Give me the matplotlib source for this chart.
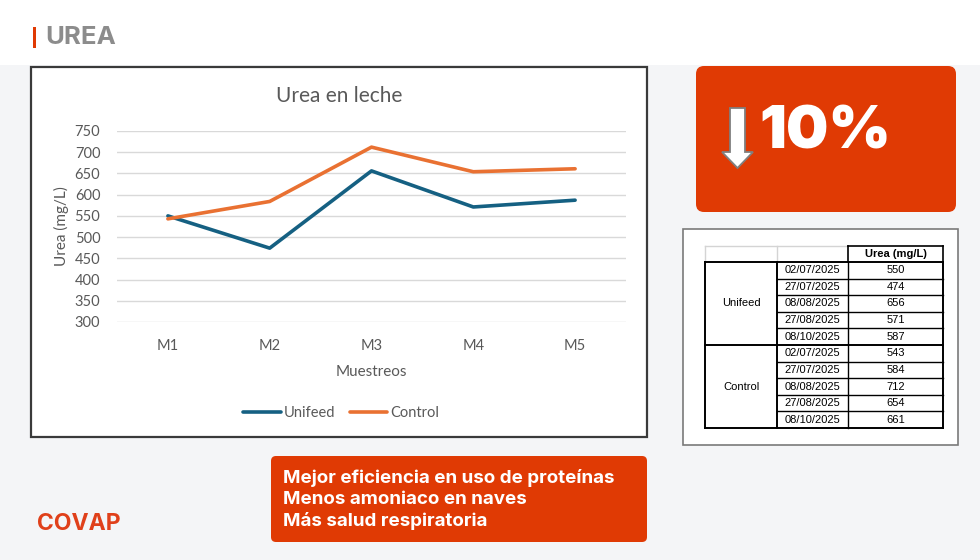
import matplotlib.pyplot as plt
from matplotlib.patches import Rectangle, FancyBboxPatch, Polygon

# data
muestreos = ['M1', 'M2', 'M3', 'M4', 'M5']
fechas = ['02/07/2025', '27/07/2025', '08/08/2025', '27/08/2025', '08/10/2025']
unifeed = [550, 474, 656, 571, 587]
control = [543, 584, 712, 654, 661]
y_ticks = list(range(300, 751, 50))
bullets = ['Mejor eficiencia en uso de proteínas',
           'Menos amoniaco en naves',
           'Más salud respiratoria']

W, H = 980, 560
RED = '#e03a04'
fig = plt.figure(figsize=(9.8, 5.6), dpi=100)
fig.patch.set_facecolor('#f4f5f7')

def frac(x0, y0, x1, y1):
    # pixel box (top-left origin) -> figure fraction rect
    return [x0 / W, 1 - y1 / H, (x1 - x0) / W, (y1 - y0) / H]

# background layer in pixel coords
bg = fig.add_axes([0, 0, 1, 1])
bg.set_xlim(0, W)
bg.set_ylim(H, 0)
bg.axis('off')
bg.add_patch(Rectangle((0, 0), W, 65, color='white', lw=0))
bg.add_patch(Rectangle((33, 27), 2.5, 21, color=RED, lw=0))
bg.text(45, 37, 'UREA', color='#8c8c8c', fontsize=18.5, fontweight='bold',
        family='Inter', va='center', ha='left')
bg.text(37, 524, 'COVAP', color='#e0401a', fontsize=16.5, fontweight='bold',
        family='Inter', va='center', ha='left')

# chart frame
bg.add_patch(Rectangle((31, 67), 616, 370, facecolor='white', edgecolor='#3a3a3a', lw=1.6))
bg.text(339, 96, 'Urea en leche', fontsize=15, color='#595959', family='Lato',
        ha='center', va='center')

# big red box
bg.add_patch(FancyBboxPatch((699, 69), 254, 140, boxstyle='round,pad=3,rounding_size=8',
                            facecolor=RED, edgecolor='none'))
bg.add_patch(Polygon([(730, 108), (745, 108), (745, 152), (753, 152), (737.5, 168),
                      (722, 152), (730, 152)], closed=True,
                     facecolor='white', edgecolor='#7f7f7f', lw=1.3))
bg.text(825, 133, '10%', color='white', fontsize=43, fontweight='black',
        family='Inter', va='center', ha='center')

# bottom red box
bg.add_patch(FancyBboxPatch((274, 459), 370, 80, boxstyle='round,pad=3,rounding_size=5',
                            facecolor=RED, edgecolor='none'))
for i, b in enumerate(bullets):
    bg.text(283, 478 + i * 21.5, b, color='white', fontsize=13.5, fontweight='bold',
            family='Inter', va='center', ha='left')

# table
bg.add_patch(Rectangle((683, 229), 275, 216, facecolor='white', edgecolor='#7a7a7a', lw=1.2))
cx = [705, 777, 848, 943]
top, h0 = 246, 262
rh = (428 - h0) / 10
gray = '#d4d4d4'
fs = 8
bg.plot([cx[0], cx[2]], [top, top], color=gray, lw=1)
bg.plot([cx[0], cx[0]], [top, h0], color=gray, lw=1)
bg.plot([cx[1], cx[1]], [top, h0], color=gray, lw=1)
bg.plot([cx[2], cx[3]], [top, top], color='black', lw=1.2)
bg.plot([cx[2], cx[2]], [top, h0], color='black', lw=1.2)
bg.plot([cx[3], cx[3]], [top, h0], color='black', lw=1.2)
bg.text((cx[2] + cx[3]) / 2, (top + h0) / 2, 'Urea (mg/L)', fontsize=fs, fontweight='bold',
        family='Liberation Sans', ha='center', va='center')
groups = [('Unifeed', unifeed), ('Control', control)]
for g, (name, vals) in enumerate(groups):
    y0 = h0 + g * 5 * rh
    bg.plot([cx[0], cx[3]], [y0, y0], color='black', lw=1.4)
    bg.text((cx[0] + cx[1]) / 2, y0 + 2.5 * rh, name, fontsize=fs, family='Liberation Sans',
            ha='center', va='center')
    for r in range(5):
        yr = y0 + r * rh
        if r > 0:
            bg.plot([cx[1], cx[3]], [yr, yr], color='black', lw=1)
        bg.text((cx[1] + cx[2]) / 2, yr + rh / 2, fechas[r], fontsize=fs,
                family='Liberation Sans', ha='center', va='center')
        bg.text((cx[2] + cx[3]) / 2, yr + rh / 2, str(vals[r]), fontsize=fs,
                family='Liberation Sans', ha='center', va='center')
bg.plot([cx[0], cx[3]], [428, 428], color='black', lw=1.4)
for x in cx:
    bg.plot([x, x], [h0, 428], color='black', lw=1.4 if x in (cx[0], cx[1], cx[3]) else 1)

# line chart
ax = fig.add_axes(frac(117, 131, 626, 322))
ax.set_facecolor('none')
xs = range(len(muestreos))
ax.plot(xs, unifeed, color='#156082', lw=2.6, label='Unifeed', solid_capstyle='round')
ax.plot(xs, control, color='#e97132', lw=2.6, label='Control', solid_capstyle='round')
ax.set_xlim(-0.5, 4.5)
ax.set_ylim(300, 750)
ax.set_yticks(y_ticks)
ax.set_xticks(list(xs))
ax.set_xticklabels(muestreos)
ax.grid(axis='y', color='#d9d9d9', lw=1)
ax.set_axisbelow(True)
for s in ax.spines.values():
    s.set_visible(False)
ax.tick_params(length=0, labelsize=10.5, labelcolor='#595959')
ax.tick_params(axis='y', pad=12)
ax.tick_params(axis='x', pad=12)
for t in ax.get_xticklabels() + ax.get_yticklabels():
    t.set_family('Lato')
ax.set_xlabel('Muestreos', fontsize=11, color='#595959', family='Lato', labelpad=9)
ax.set_ylabel('Urea (mg/L)', fontsize=11, color='#595959', family='Lato', labelpad=4)
ax.legend(loc='upper center', bbox_to_anchor=(0.44, -0.37), ncol=2, frameon=False,
          prop={'family': 'Lato', 'size': 10.5}, labelcolor='#595959',
          handlelength=2.6, columnspacing=1.0, handletextpad=0.2)

fig.savefig('out.png', dpi=100, facecolor=fig.get_facecolor())
